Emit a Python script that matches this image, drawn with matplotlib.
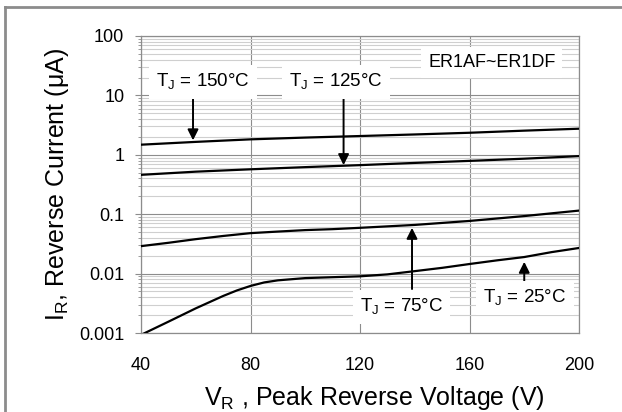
import matplotlib.pyplot as plt
from matplotlib.ticker import LogLocator, NullFormatter
from matplotlib.lines import Line2D

plt.rcParams["font.family"] = ["Liberation Sans", "DejaVu Sans"]

# curves (V, uA)
v_150 = [40, 60, 80, 100, 120, 140, 160, 180, 200]
i_150 = [1.48, 1.65, 1.82, 1.95, 2.07, 2.2, 2.35, 2.55, 2.75]

v_125 = [40, 60, 80, 100, 120, 140, 160, 180, 200]
i_125 = [0.46, 0.52, 0.57, 0.62, 0.67, 0.73, 0.79, 0.86, 0.95]

v_75 = [40, 50, 60, 70, 80, 90, 100, 110, 120, 140, 160, 180, 200]
i_75 = [0.029, 0.033, 0.038, 0.043, 0.048, 0.051, 0.054, 0.056, 0.059,
        0.066, 0.077, 0.093, 0.115]

v_25 = [40, 50, 60, 70, 75, 80, 85, 90, 100, 110, 120, 130, 140, 150, 160, 170, 180, 190, 200]
i_25 = [0.00093, 0.00155, 0.0026, 0.0042, 0.0052, 0.0062, 0.0071, 0.0077, 0.0084, 0.0087, 0.0090,
        0.0097, 0.011, 0.0125, 0.0145, 0.0167, 0.019, 0.023, 0.027]

x_ticks = [40, 80, 120, 160, 200]
y_ticks = [0.001, 0.01, 0.1, 1, 10, 100]
y_labels = ["0.001", "0.01", "0.1", "1", "10", "100"]

fig = plt.figure(figsize=(6.22, 4.12), dpi=100)
ax = fig.add_axes([141 / 622, 1 - 333 / 412, 438 / 622, 297 / 412])

for v, i in [(v_150, i_150), (v_125, i_125), (v_75, i_75), (v_25, i_25)]:
    ax.plot(v, i, color="black", lw=1.6, zorder=3)

ax.set_yscale("log")
ax.set_xlim(40, 200)
ax.set_ylim(0.001, 100)
ax.set_xticks(x_ticks)
ax.set_yticks(y_ticks, y_labels)
ax.yaxis.set_minor_locator(LogLocator(base=10, subs=range(2, 10)))
ax.yaxis.set_minor_formatter(NullFormatter())

ax.grid(True, which="major", axis="both", color="#8c8c8c", lw=0.8)
ax.grid(True, which="minor", axis="y", color="#cfcfcf", lw=0.8)
for s in ax.spines.values():
    s.set_color("#8c8c8c")
    s.set_linewidth(0.9)
ax.tick_params(axis="both", which="major", labelsize=13, color="#8c8c8c", length=4)
ax.tick_params(axis="x", length=0, pad=17)
ax.tick_params(axis="y", which="major", pad=8)
ax.tick_params(axis="y", which="minor", color="#8c8c8c", length=2)

ax.set_xlabel("V$_\\mathregular{R}$ , Peak Reverse Voltage (V)", fontsize=18)
ax.xaxis.set_label_coords(0.532, -0.172)
ax.set_ylabel("I$_\\mathregular{R}$, Reverse Current (\u03bcA)", fontsize=18, labelpad=6)

box = dict(facecolor="white", edgecolor="none", pad=5)
arrow = dict(arrowstyle="-|>", color="black", lw=1.4, mutation_scale=16, shrinkA=0, shrinkB=0)
fs = 13.5

ax.annotate("", xy=(59, 1.75), xytext=(59, 9.4), arrowprops=arrow, zorder=4)
ax.text(62.6, 16.8, "T$_\\mathregular{J}$ = 150°C", fontsize=fs, ha="center", va="center", bbox=box, zorder=5)

ax.annotate("", xy=(114, 0.67), xytext=(114, 9.4), arrowprops=arrow, zorder=4)
ax.text(111.2, 16.8, "T$_\\mathregular{J}$ = 125°C", fontsize=fs, ha="center", va="center", bbox=box, zorder=5)

ax.text(168.2, 36, "ER1AF~ER1DF", fontsize=13, ha="center", va="center", bbox=box, zorder=5)

ax.annotate("", xy=(139, 0.059), xytext=(139, 0.0055), arrowprops=arrow, zorder=4)
ax.text(135.3, 0.00275, "T$_\\mathregular{J}$ = 75°C", fontsize=fs, ha="center", va="center", bbox=box, zorder=5)

ax.annotate("", xy=(180, 0.0158), xytext=(180, 0.0064), arrowprops=arrow, zorder=4)
ax.text(180.3, 0.0039, "T$_\\mathregular{J}$ = 25°C", fontsize=fs, ha="center", va="center", bbox=box, zorder=5)

# frame lines at left and top of the figure
fig.add_artist(Line2D([4.5 / 622, 4.5 / 622], [0, 1 - 7 / 412], color="#8c8c8c", lw=2))
fig.add_artist(Line2D([4.5 / 622, 1], [1 - 7 / 412, 1 - 7 / 412], color="#8c8c8c", lw=2))

fig.savefig("out.png", dpi=100)
